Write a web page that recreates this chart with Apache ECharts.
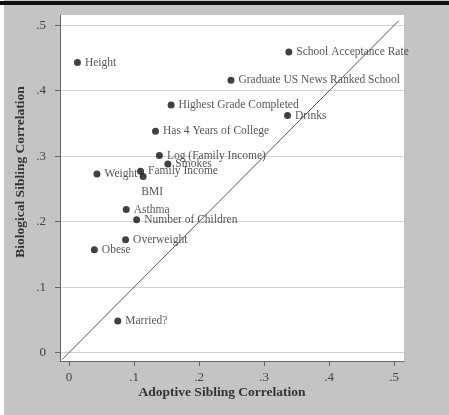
<!DOCTYPE html>
<html lang="en">
<head>
	<meta charset="utf-8"/>
	<title>Sibling correlations</title>
	<script src="https://cdn.jsdelivr.net/npm/echarts@6/dist/echarts.min.js"></script>
	<style>
		html, body { margin: 0; padding: 0; background: #c4c4c4; }
		#main { width: 449px; height: 415px; }
	</style>
</head>
<body>
<div id="main"></div>
<script type="text/javascript">
	// outcome names, adoptive (x) and biological (y) sibling correlations
	var names = ['Height', 'School Acceptance Rate', 'Graduate US News Ranked School', 'Highest Grade Completed',
		'Drinks', 'Has 4 Years of College', 'Log (Family Income)', 'Smokes', 'Weight', 'Family Income', 'BMI',
		'Asthma', 'Number of Children', 'Overweight', 'Obese', 'Married?'];
	var adoptive = [0.013, 0.338, 0.249, 0.157, 0.336, 0.133, 0.139, 0.152, 0.043, 0.110, 0.114,
		0.088, 0.104, 0.087, 0.039, 0.075];
	var biological = [0.443, 0.459, 0.416, 0.378, 0.362, 0.338, 0.301, 0.288, 0.273, 0.277, 0.269,
		0.2185, 0.203, 0.1726, 0.157, 0.0485];
	var ticks = [0, 0.1, 0.2, 0.3, 0.4, 0.5];
	var diagonal = [[-0.0105, -0.0105], [0.507, 0.507]]; // 45 degree line

	var serif = '"Liberation Serif", "DejaVu Serif", serif';

	function fmt(v) {
		return v === 0 ? '0' : String(Math.round(v * 10) / 10).replace('0.', '.');
	}

	var points = [];
	for (var i = 0; i < names.length; i++) {
		var p = { name: names[i], value: [adoptive[i], biological[i]] };
		if (names[i] === 'BMI') {
			p.label = { position: 'bottom', distance: 6, offset: [9, 0] };
		}
		points.push(p);
	}

	var chart = echarts.init(document.getElementById('main'));
	var option = {
		backgroundColor: '#c4c4c4',
		animation: false,
		grid: {
			left: 60, right: 45, top: 15, bottom: 54,
			show: true, backgroundColor: '#ffffff', borderWidth: 0
		},
		xAxis: {
			type: 'value', min: -0.0138, max: 0.515,
			axisLine: { show: true, onZero: false, lineStyle: { color: '#666', width: 1 } },
			axisTick: { show: true, customValues: ticks, length: 5, lineStyle: { color: '#666' } },
			axisLabel: { customValues: ticks, formatter: fmt, color: '#444', fontFamily: serif, fontSize: 13, margin: 10 },
			splitLine: { show: false }
		},
		yAxis: {
			type: 'value', min: -0.0127, max: 0.5156,
			axisLine: { show: true, onZero: false, lineStyle: { color: '#666', width: 1 } },
			axisTick: { show: true, customValues: ticks, length: 5, lineStyle: { color: '#666' } },
			axisLabel: { customValues: ticks, formatter: fmt, color: '#444', fontFamily: serif, fontSize: 13, margin: 14 },
			splitLine: { show: true, lineStyle: { color: '#d2d2d2', width: 1 } }
		},
		graphic: [
			{ type: 'rect', left: 0, top: 0, shape: { width: 4, height: 415 }, style: { fill: '#ffffff' } },
			{ type: 'rect', left: 0, top: 1, shape: { width: 449, height: 4 }, style: { fill: '#111111' } },
			{
				type: 'text', x: 222, y: 393,
				style: { text: 'Adoptive Sibling Correlation', font: 'bold 13.5px ' + serif, fill: '#333',
					textAlign: 'center', textVerticalAlign: 'middle' }
			},
			{
				type: 'text', x: 21, y: 172, rotation: Math.PI / 2,
				style: { text: 'Biological Sibling Correlation', font: 'bold 13.5px ' + serif, fill: '#333',
					textAlign: 'center', textVerticalAlign: 'middle' }
			}
		],
		series: [
			{
				type: 'line', data: diagonal, symbol: 'none', silent: true,
				lineStyle: { color: '#555', width: 1 }
			},
			{
				type: 'scatter', data: points, symbolSize: 7,
				itemStyle: { color: '#111' },
				label: {
					show: true, position: 'right', distance: 4, formatter: '{b}',
					color: '#2a2a2a', fontFamily: serif, fontSize: 11.5
				}
			}
		]
	};
	chart.setOption(option);
</script>
</body>
</html>
